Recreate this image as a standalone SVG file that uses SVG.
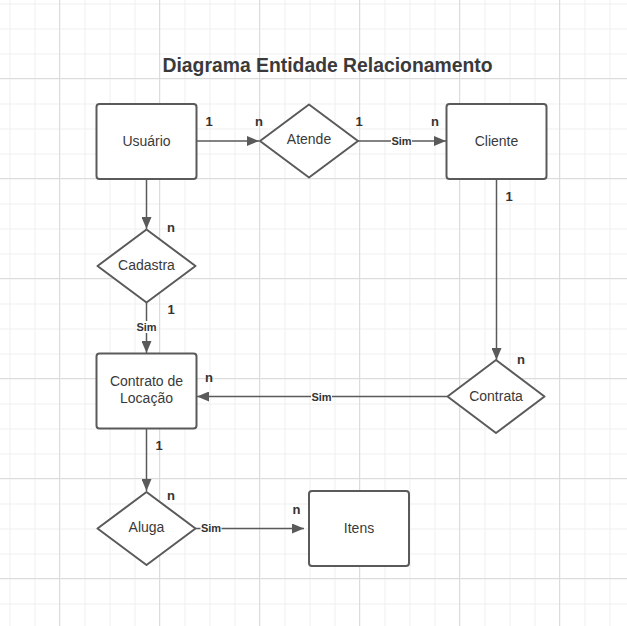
<svg xmlns="http://www.w3.org/2000/svg" width="627" height="626" viewBox="0 0 627 626">
<defs>
<pattern id="minor" width="25" height="25" patternUnits="userSpaceOnUse" x="9.5" y="3.5">
<path d="M0 0.5H25M0.5 0V25" fill="none" stroke="#efefef" stroke-width="1"/>
</pattern>
<pattern id="major" width="100" height="100" patternUnits="userSpaceOnUse" x="59" y="78">
<path d="M0 0.5H100M0.5 0V100" fill="none" stroke="#dcdcdc" stroke-width="1"/>
</pattern>
<marker id="arr" viewBox="0 0 12 10" refX="12" refY="5" markerWidth="12" markerHeight="10" markerUnits="userSpaceOnUse" orient="auto">
<path d="M0 0L12 5L0 10Z" fill="#5a5a5a"/>
</marker>
</defs>
<style>
.box{fill:#fff;stroke:#5a5a5a;stroke-width:2}
.t{font-family:"Liberation Sans",Arial,sans-serif;font-size:14px;fill:#3a3a3a;text-anchor:middle;dominant-baseline:central}
.c{fill:none;stroke:#5a5a5a;stroke-width:1.5}
.card{font-family:"Liberation Sans",Arial,sans-serif;font-size:13px;font-weight:bold;fill:#333;text-anchor:middle;dominant-baseline:central}
.sim{font-family:"Liberation Sans",Arial,sans-serif;font-size:11px;font-weight:bold;fill:#333;text-anchor:middle;dominant-baseline:central}
.bg{fill:#fff}
</style>
<rect width="627" height="626" fill="#fff"/>
<rect width="627" height="626" fill="url(#minor)"/>
<rect width="627" height="626" fill="url(#major)"/>
<text x="327.5" y="65" font-family="Liberation Sans,Arial,sans-serif" font-size="19.5" font-weight="bold" fill="#3a3a3a" text-anchor="middle" dominant-baseline="central" textLength="330" lengthAdjust="spacingAndGlyphs">Diagrama Entidade Relacionamento</text>
<g id="connectors">
<path class="c" d="M197 141H259" marker-end="url(#arr)"/>
<path class="c" d="M358 141H446" marker-end="url(#arr)"/>
<rect class="bg" x="391" y="135" width="21" height="12"/>
<text class="sim" x="401.5" y="141">Sim</text>
<path class="c" d="M146.5 179V229" marker-end="url(#arr)"/>
<path class="c" d="M146.5 303V353" marker-end="url(#arr)"/>
<rect class="bg" x="136" y="321" width="21" height="12"/>
<text class="sim" x="146.5" y="327">Sim</text>
<path class="c" d="M447 396.5H197" marker-end="url(#arr)"/>
<rect class="bg" x="311" y="390.5" width="21" height="12"/>
<text class="sim" x="321.5" y="396.5">Sim</text>
<path class="c" d="M496.5 179V360" marker-end="url(#arr)"/>
<path class="c" d="M146.5 428V491" marker-end="url(#arr)"/>
<path class="c" d="M195.5 528.5H304" marker-end="url(#arr)"/>
<rect class="bg" x="200.5" y="522.5" width="21" height="12"/>
<text class="sim" x="211" y="528">Sim</text>
</g>
<g id="usuario">
<rect class="box" x="96.5" y="104" width="100" height="75" rx="3"/>
<text class="t" x="146.5" y="141">Usuário</text>
</g>
<g id="atende">
<path class="box" d="M309 104.5L358 141L309 177.5L260 141Z" stroke-linejoin="round"/>
<text class="t" x="309" y="139">Atende</text>
</g>
<g id="cliente">
<rect class="box" x="446.5" y="104" width="100" height="75" rx="3"/>
<text class="t" x="496.5" y="141">Cliente</text>
</g>
<g id="cadastra">
<path class="box" d="M146.5 229.5L195.5 266L146.5 302.5L97.5 266Z" stroke-linejoin="round"/>
<text class="t" x="146.5" y="264.5">Cadastra</text>
</g>
<g id="contrato">
<rect class="box" x="96.5" y="353.5" width="100" height="75" rx="3"/>
<text class="t" x="146.5" y="381">Contrato de</text>
<text class="t" x="146.5" y="398">Locação</text>
</g>
<g id="contrata">
<path class="box" d="M496 360L544.5 396.5L496 433L447.5 396.5Z" stroke-linejoin="round"/>
<text class="t" x="496" y="395.5">Contrata</text>
</g>
<g id="aluga">
<path class="box" d="M146.5 492L195.5 528.5L146.5 565L97.5 528.5Z" stroke-linejoin="round"/>
<text class="t" x="146.5" y="527">Aluga</text>
</g>
<g id="itens">
<rect class="box" x="309" y="491" width="100" height="75" rx="3"/>
<text class="t" x="359" y="527.5">Itens</text>
</g>
<g id="cardinalities">
<text class="card" x="209" y="121.5">1</text>
<text class="card" x="259" y="121.5">n</text>
<text class="card" x="359" y="121.5">1</text>
<text class="card" x="435" y="121.5">n</text>
<text class="card" x="509" y="196.5">1</text>
<text class="card" x="171" y="227">n</text>
<text class="card" x="171" y="309">1</text>
<text class="card" x="209" y="377">n</text>
<text class="card" x="521" y="359">n</text>
<text class="card" x="159" y="445.5">1</text>
<text class="card" x="171" y="495.5">n</text>
<text class="card" x="296.5" y="509">n</text>
</g>
</svg>
